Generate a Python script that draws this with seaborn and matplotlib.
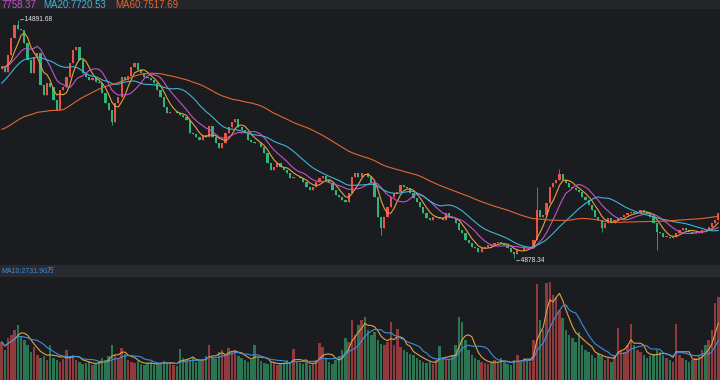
import numpy as np
import pandas as pd
import matplotlib
matplotlib.use("Agg")
import matplotlib.pyplot as plt
from matplotlib.patches import Rectangle
import seaborn as sns

# dark candlestick look
sns.set_theme(style="dark")
plt.rcParams['font.family'] = ['Liberation Sans', 'DejaVu Sans', 'Noto Sans CJK SC']

# ---- data ----
# closes before the visible window (only feed the moving averages)
lead_in_close = [7800, 7900, 8050, 7950, 8100, 8000, 8150, 8250, 8100, 8200,
                 8200, 8350, 8300, 8500, 8700, 8650, 8900, 9100, 9050, 9300,
                 9600, 9900, 10300, 10800, 11200, 11600, 11900, 12200, 12500, 12400,
                 12700, 12900, 12600, 12800, 13100, 13000, 12750, 12900, 13200, 12850]

close_part1 = [12915, 12700, 13420, 14140, 14680, 14520, 14470, 13920, 13210, 12660,
               13340, 13500, 12160, 11740, 12240, 12070, 11530, 11110, 11950, 12070,
               12490, 13080, 13630, 13760, 13210, 12660, 12490, 12370, 12450, 12280,
               12240, 11820, 11400, 11110, 10600, 11400, 11650, 12490, 12370, 12520,
               12910, 13080, 12790, 12660, 12490, 12450, 12370, 12240, 11950, 11650,
               11230, 10980, 11010, 11020, 10960, 10900, 10810, 10690]
close_part2 = [10140, 10100, 9970, 9840, 10050, 9970, 10430, 9970, 9720, 9510,
               9720, 10140, 10390, 10600, 10730, 10390, 10260, 10140, 9840, 9760,
               9720, 9700, 9550, 9300, 8880, 8580, 8710, 8880, 8710, 8580,
               8460, 8250, 8290, 8270, 8250, 8080, 7870, 7740, 7870, 8080,
               8250, 8330, 8160, 8030, 7740, 7530, 7450, 7320, 7240, 7610,
               8290, 8460, 8290, 8460]
close_part3 = [8450, 8290, 8030, 7450, 6600, 6140, 6600, 7030, 7450, 7610,
               7660, 7950, 7870, 7820, 7610, 7400, 7240, 7020, 6770, 6560,
               6480, 6600, 6620, 6560, 6480, 6770, 6600, 6560, 6350, 6060,
               5930, 5640, 5510, 5340, 5300, 5130, 5300, 5340, 5430, 5400,
               5510, 5550, 5510, 5430, 5300, 5130, 5050, 5220, 5200, 5300,
               5280, 5340, 5640, 6900, 6600]
close_part4 = [6690, 7190, 7870, 8030, 8160, 8410, 8160, 8030, 7870, 7820,
               7740, 7660, 7450, 7320, 7110, 6900, 6600, 6480, 6140, 6350,
               6560, 6350, 6480, 6560, 6600, 6690, 6770, 6810, 6770, 6810,
               6900, 6810, 6770, 6600, 6350, 5970, 5930, 5760, 5780, 5720,
               5760, 5930, 6060, 6140, 6060, 5970, 5930, 5970, 5950, 6060,
               6040, 6180, 6350, 6480, 6770]

# long wicks that stand out (candle index -> price)
high_marks = {5: 14891.68, 165: 7870, 172: 8620}
low_marks = {34: 10475, 117: 5850, 158: 4878.34, 185: 5970, 202: 5220}

# volume, in 万
volume_part1 = [4940, 3900, 5460, 5850, 6500, 7150, 5720, 5200, 4550, 3640,
                4290, 3250, 2860, 3120, 2600, 4550, 2860, 2600, 2340, 2730,
                3900, 2860, 3250, 2600, 2340, 2080, 2210, 2470, 1950, 2080,
                2340, 2860, 2600, 3120, 4550, 3250, 2860, 4160, 3380, 2600,
                2340, 2210, 2470, 2080, 1950, 2210, 2340, 1950, 2080, 2210,
                2470, 2340, 2080, 1950, 1820, 4030, 2860, 2600]
volume_part2 = [2600, 2860, 2340, 2600, 2470, 3120, 4550, 2860, 2730, 3640,
                3900, 3250, 4160, 3640, 3900, 3120, 2860, 2600, 2340, 2600,
                4550, 2860, 2470, 2210, 2080, 2340, 2210, 1950, 2080, 2210,
                2600, 2080, 4030, 2340, 2210, 2080, 2340, 1950, 2210, 2600,
                4810, 4290, 2860, 2340, 2080, 2600, 3120, 3900, 5460, 4940,
                7800, 5850, 7150, 7800]
volume_part3 = [8190, 6500, 5850, 6240, 5200, 4680, 4550, 4940, 7540, 4550,
                6630, 4290, 3900, 3640, 3380, 3250, 2860, 2600, 2340, 2210,
                2340, 2080, 2600, 4420, 2860, 2730, 2600, 3250, 4550, 8190,
                7540, 5200, 3900, 3250, 2860, 2600, 2340, 2210, 2080, 2340,
                2600, 2210, 2860, 2340, 2080, 1950, 2600, 3250, 2340, 2860,
                2600, 2340, 5200, 12480, 7800]
volume_part4 = [6500, 12610, 12740, 11050, 10790, 9100, 8060, 6500, 5850, 5460,
                4940, 6240, 4550, 3900, 3640, 3250, 2860, 3380, 3120, 2600,
                2860, 2340, 3250, 6760, 3900, 3640, 4550, 7280, 4550, 3900,
                3640, 3250, 2860, 3120, 3380, 3900, 3640, 3250, 2860, 2600,
                2340, 7280, 3250, 2860, 2600, 2340, 2600, 2860, 3250, 3900,
                4550, 5200, 6500, 10010, 10790]

# header values shown in the label strips (first one is cut at the left edge)
price_ma_names = ["MA20", "MA60"]
price_ma_values = [7758.37, 7720.53, 7517.69]
volume_ma_name = "MA10"
volume_ma_value = 2731.90

BG = "#1b1c20"
UP = "#ea5248"
DOWN = "#2fb47a"
VOL_UP = "#8f3a3d"
VOL_DOWN = "#2b7553"
MA_COLORS = {"MA5": "#e3a23e", "MA10": "#c552c9", "MA20": "#3fb5d6", "MA60": "#e2672f"}
VOL_MA_COLORS = {"MA5": "#e3a23e", "MA10": "#3a8fe0"}

# ---- prepare ----
visible = close_part1 + close_part2 + close_part3 + close_part4
volume = np.array(volume_part1 + volume_part2 + volume_part3 + volume_part4, dtype=float)
full = pd.Series(lead_in_close + visible, dtype=float)
n_lead = len(lead_in_close)

close = full.iloc[n_lead:].to_numpy()
open_ = full.shift(1).iloc[n_lead:].to_numpy()
high = np.maximum(open_, close)
low = np.minimum(open_, close)
for i, v in high_marks.items():
    high[i] = v
for i, v in low_marks.items():
    low[i] = v

idx = np.arange(len(close))
up = close >= open_

ma_frames = []
for n in (5, 10, 20, 60):
    ma = full.rolling(n, min_periods=1).mean().iloc[n_lead:].to_numpy()
    ma_frames.append(pd.DataFrame({"idx": idx, "value": ma, "line": f"MA{n}"}))
ma_df = pd.concat(ma_frames, ignore_index=True)

vol_s = pd.Series(volume)
vol_ma_df = pd.concat([
    pd.DataFrame({"idx": idx, "value": vol_s.rolling(n, min_periods=1).mean(), "line": f"MA{n}"})
    for n in (5, 10)], ignore_index=True)
vol_df = pd.DataFrame({"idx": idx, "vol": volume, "dir": np.where(up, "up", "down")})

# ---- figure ----
fig = plt.figure(figsize=(7.2, 3.8), dpi=100, facecolor=BG)
ax = fig.add_axes([0, 116 / 380, 1, 256 / 380])
axv = fig.add_axes([0, 0, 1, 104 / 380])

# label strips
fig.add_artist(Rectangle((0, 372 / 380), 1, 8 / 380, transform=fig.transFigure,
                         color="#25262b", zorder=0))
fig.add_artist(Rectangle((0, 104 / 380), 1, 11 / 380, transform=fig.transFigure,
                         color="#2a2b30", zorder=0))

# candles
colors = np.where(up, UP, DOWN)
ax.vlines(idx, low, high, colors=colors, lw=0.6)
ax.bar(idx, np.maximum(np.abs(close - open_), 25), bottom=np.minimum(open_, close),
       width=0.68, color=colors, linewidth=0)
sns.lineplot(data=ma_df, x="idx", y="value", hue="line", palette=MA_COLORS,
             linewidth=0.8, legend=False, ax=ax)
ax.set_xlim(-0.5, len(close) - 0.5)
ax.set_ylim(4626, 15396)
ax.set_axis_off()

imax = int(np.argmax(high))
imin = int(np.argmin(low))
ax.annotate(f"\u2190{high[imax]:.2f}", (imax, high[imax]), xytext=(0.5, 0),
            textcoords="offset points", ha="left", va="center", fontsize=4.8, color="#e8e8e8")
ax.annotate(f"\u2190{low[imin]:.2f}", (imin, low[imin]), xytext=(0.5, -2),
            textcoords="offset points", ha="left", va="center", fontsize=4.8, color="#e8e8e8")

# volume
sns.barplot(data=vol_df, x="idx", y="vol", hue="dir", palette={"up": VOL_UP, "down": VOL_DOWN},
            dodge=False, native_scale=True, width=0.75, saturation=1, errorbar=None,
            legend=False, linewidth=0, ax=axv)
sns.lineplot(data=vol_ma_df, x="idx", y="value", hue="line", palette=VOL_MA_COLORS,
             linewidth=0.8, legend=False, ax=axv)
axv.set_xlim(-0.5, len(close) - 0.5)
axv.set_ylim(0, 13520)
axv.set_axis_off()

# header texts
y_top = 1 - 4.5 / 380
fig.text(1 / 720, y_top, f"{price_ma_values[0]:.2f}", ha="left", va="center",
         fontsize=7, color=MA_COLORS["MA10"])
fig.text(43 / 720, y_top, f"{price_ma_names[0]}:{price_ma_values[1]:.2f}", ha="left", va="center",
         fontsize=7, color=MA_COLORS["MA20"])
fig.text(115 / 720, y_top, f"{price_ma_names[1]}:{price_ma_values[2]:.2f}", ha="left", va="center",
         fontsize=7, color=MA_COLORS["MA60"])
fig.text(1 / 720, 1 - 271 / 380, f"{volume_ma_name}:{volume_ma_value:.2f}万", ha="left", va="center",
         fontsize=5, color=VOL_MA_COLORS["MA10"])

fig.savefig("out.png", dpi=100, facecolor=BG)
